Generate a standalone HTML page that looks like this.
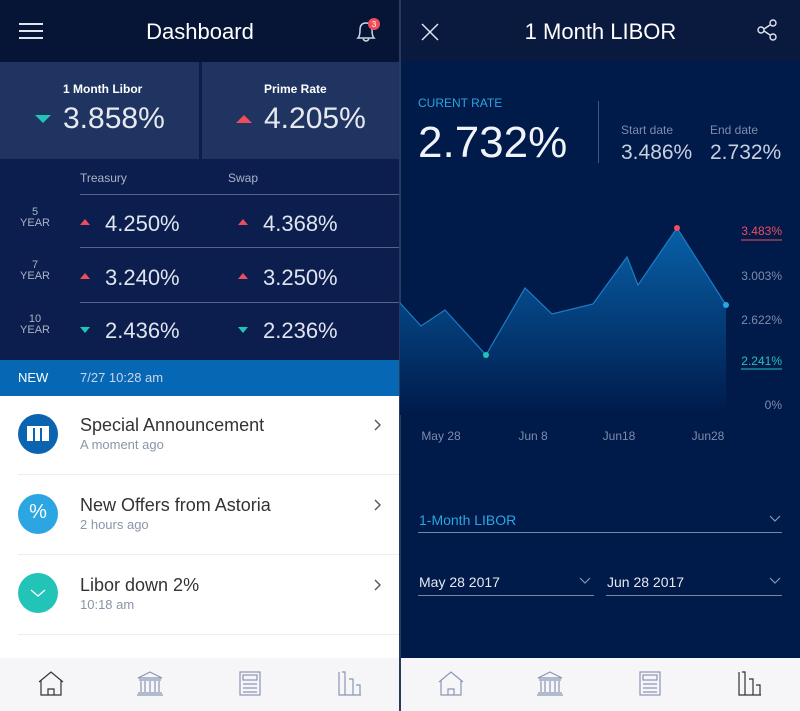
<!DOCTYPE html>
<html><head><meta charset="utf-8"><style>
*{margin:0;padding:0;box-sizing:border-box}
body{width:800px;height:711px;overflow:hidden;background:#07163a;font-family:"Liberation Sans",sans-serif;position:relative}
.a{position:absolute}
.t{color:#fff;white-space:nowrap}
</style></head><body>
<!-- LEFT PANEL -->
<div class="a" style="left:0;top:0;width:400px;height:62px;background:#061536"></div>
<div class="a" style="left:19px;top:23px;width:24px;height:2px;background:#dfe4ee;box-shadow:0 7px 0 #dfe4ee,0 14px 0 #dfe4ee"></div>
<div class="a t" style="left:0;width:400px;text-align:center;top:19px;font-size:22px">Dashboard</div>
<svg class="a" style="left:354px;top:18px" width="28" height="26"><path d="M4 20 Q6 18 6 12 Q6 5 12 5 Q18 5 18 12 Q18 18 20 20 Z M9 21 Q12 25 15 21" fill="none" stroke="#cfd6e4" stroke-width="1.5"/><circle cx="20" cy="6" r="6" fill="#ef4d5b"/><text x="20" y="9" font-size="8" fill="#fff" text-anchor="middle" font-family="Liberation Sans">3</text></svg>
<div class="a" style="left:0;top:62px;width:400px;height:298px;background:#0b1e4e"></div>
<div class="a" style="left:0;top:62px;width:199px;height:97px;background:#1f3461"></div>
<div class="a" style="left:202px;top:62px;width:198px;height:97px;background:#1f3461"></div>
<div class="a t" style="left:63px;top:82px;font-size:12px;font-weight:bold">1 Month Libor</div>
<div class="a" style="left:35px;top:115px;border-left:8px solid transparent;border-right:8px solid transparent;border-top:8px solid #22c4b8"></div>
<div class="a t" style="left:63px;top:102px;font-size:30px;color:#e6e9f0">3.858%</div>
<div class="a t" style="left:264px;top:82px;font-size:12px;font-weight:bold">Prime Rate</div>
<div class="a" style="left:236px;top:115px;border-left:8px solid transparent;border-right:8px solid transparent;border-bottom:8px solid #ef4d5b"></div>
<div class="a t" style="left:264px;top:102px;font-size:30px;color:#e6e9f0">4.205%</div>
<div class="a t" style="left:80px;top:171px;font-size:12px;color:#aab3c6">Treasury</div>
<div class="a t" style="left:228px;top:171px;font-size:12px;color:#aab3c6">Swap</div>
<div class="a" style="left:80px;top:194px;width:320px;height:1px;background:#56668a"></div>
<div class="a" style="left:80px;top:247px;width:320px;height:1px;background:#56668a"></div>
<div class="a" style="left:80px;top:302px;width:320px;height:1px;background:#56668a"></div>
<div class="a t" style="left:17px;top:207px;width:36px;text-align:center;font-size:11px;color:#aab3c6;line-height:11px">5<br>YEAR</div>
<div class="a" style="left:80px;top:219px;border-left:5px solid transparent;border-right:5px solid transparent;border-bottom:6px solid #ef4d5b"></div>
<div class="a t" style="left:105px;top:211px;font-size:22px;color:#dfe4ee">4.250%</div>
<div class="a" style="left:238px;top:219px;border-left:5px solid transparent;border-right:5px solid transparent;border-bottom:6px solid #ef4d5b"></div>
<div class="a t" style="left:263px;top:211px;font-size:22px;color:#dfe4ee">4.368%</div>
<div class="a t" style="left:17px;top:260px;width:36px;text-align:center;font-size:11px;color:#aab3c6;line-height:11px">7<br>YEAR</div>
<div class="a" style="left:80px;top:273px;border-left:5px solid transparent;border-right:5px solid transparent;border-bottom:6px solid #ef4d5b"></div>
<div class="a t" style="left:105px;top:265px;font-size:22px;color:#dfe4ee">3.240%</div>
<div class="a" style="left:238px;top:273px;border-left:5px solid transparent;border-right:5px solid transparent;border-bottom:6px solid #ef4d5b"></div>
<div class="a t" style="left:263px;top:265px;font-size:22px;color:#dfe4ee">3.250%</div>
<div class="a t" style="left:17px;top:314px;width:36px;text-align:center;font-size:11px;color:#aab3c6;line-height:11px">10<br>YEAR</div>
<div class="a" style="left:80px;top:327px;border-left:5px solid transparent;border-right:5px solid transparent;border-top:6px solid #22c4b8"></div>
<div class="a t" style="left:105px;top:318px;font-size:22px;color:#dfe4ee">2.436%</div>
<div class="a" style="left:238px;top:327px;border-left:5px solid transparent;border-right:5px solid transparent;border-top:6px solid #22c4b8"></div>
<div class="a t" style="left:263px;top:318px;font-size:22px;color:#dfe4ee">2.236%</div>
<div class="a" style="left:0;top:360px;width:400px;height:36px;background:#0667b4"></div>
<div class="a t" style="left:18px;top:370px;font-size:13px">NEW</div>
<div class="a t" style="left:80px;top:370px;font-size:13px;color:#c8d6ea">7/27 10:28 am</div>
<div class="a" style="left:0;top:396px;width:400px;height:262px;background:#fff"></div>
<div class="a" style="left:18px;top:414px;width:40px;height:40px;border-radius:50%;background:#0b64b0"></div>
<div class="a" style="left:27px;top:426px;width:22px;height:15px;background:#fff;border-top:2px solid #fff"></div>
<div class="a" style="left:33px;top:428px;width:2px;height:13px;background:#0b64b0;box-shadow:7px 0 0 #0b64b0"></div>
<div class="a t" style="left:80px;top:415px;font-size:18px;color:#333">Special Announcement</div>
<div class="a t" style="left:80px;top:437px;font-size:13px;color:#8a95a8">A moment ago</div>
<div class="a" style="left:18px;top:474px;width:382px;height:1px;background:#eceef2"></div>
<div class="a" style="left:18px;top:494px;width:40px;height:40px;border-radius:50%;background:#2ba6e3"></div>
<div class="a t" style="left:18px;top:501px;width:40px;text-align:center;font-size:20px">%</div>
<div class="a t" style="left:80px;top:495px;font-size:18px;color:#333">New Offers from Astoria</div>
<div class="a t" style="left:80px;top:517px;font-size:13px;color:#8a95a8">2 hours ago</div>
<div class="a" style="left:18px;top:554px;width:382px;height:1px;background:#eceef2"></div>
<div class="a" style="left:18px;top:573px;width:40px;height:40px;border-radius:50%;background:#22c4b8"></div>
<svg class="a" style="left:28px;top:588px" width="20" height="10"><path d="M3 2 L10 8 L17 2" fill="none" stroke="#fff" stroke-width="1.3"/></svg>
<div class="a t" style="left:80px;top:575px;font-size:18px;color:#333">Libor down 2%</div>
<div class="a t" style="left:80px;top:597px;font-size:13px;color:#8a95a8">10:18 am</div>
<div class="a" style="left:18px;top:634px;width:382px;height:1px;background:#eceef2"></div>
<svg class="a" style="left:370px;top:410px" width="20" height="200" fill="none" stroke="#555" stroke-width="1.4"><path d="M5 10 L10 15 L5 20 M5 90 L10 95 L5 100 M5 170 L10 175 L5 180"/></svg>
<!-- tab bars -->
<div class="a" style="left:0;top:658px;width:800px;height:53px;background:#f6f6f8"></div>
<div class="a" style="left:399px;top:0;width:2px;height:711px;background:#2a3a5e"></div>
<svg class="a" style="left:0;top:670px" width="800" height="30" fill="none" stroke-width="1.2">
<g stroke="#333"><path d="M39 12 L51 2 L63 12 M41 10 V25 H61 V10 M48 25 V19 H54 V25"/></g>
<g stroke="#8a96b4"><path d="M138 8 L150 2 L162 8 Z M139 10 H161 M141 11 V22 M145 11 V22 M150 11 V22 M155 11 V22 M159 11 V22 M138 23 H162 M137 25 H163"/>
<rect x="240" y="2" width="20" height="23"/><rect x="243" y="5" width="14" height="5"/><path d="M243 14 H257 M243 18 H257 M243 22 H257"/>
<path d="M339 2 V25 H361 M342 2 H345 V25 M349 9 H353 V25 M356 15 H360 V25"/>
<path d="M439 12 L451 2 L463 12 M441 10 V25 H461 V10 M448 25 V19 H454 V25"/>
<path d="M538 8 L550 2 L562 8 Z M539 10 H561 M541 11 V22 M545 11 V22 M550 11 V22 M555 11 V22 M559 11 V22 M538 23 H562 M537 25 H563"/>
<rect x="640" y="2" width="20" height="23"/><rect x="643" y="5" width="14" height="5"/><path d="M643 14 H657 M643 18 H657 M643 22 H657"/></g>
<g stroke="#333"><path d="M739 2 V25 H761 M742 2 H745 V25 M749 9 H753 V25 M756 15 H760 V25"/></g>
</svg>
<!-- RIGHT PANEL -->
<div class="a" style="left:401px;top:0;width:399px;height:61px;background:#0a1a3e"></div>
<div class="a" style="left:401px;top:61px;width:399px;height:597px;background:#001a4a"></div>
<svg class="a" style="left:420px;top:22px" width="22" height="20"><path d="M2 2 L18 18 M18 2 L2 18" stroke="#dfe4ee" stroke-width="1.5"/></svg>
<div class="a t" style="left:401px;width:399px;text-align:center;top:19px;font-size:22px">1 Month LIBOR</div>
<svg class="a" style="left:756px;top:19px" width="24" height="24" fill="none" stroke="#dfe4ee" stroke-width="1.4"><circle cx="17" cy="4" r="3"/><circle cx="5" cy="11" r="3"/><circle cx="17" cy="18" r="3"/><path d="M8 10 L14 6 M8 12 L14 16"/></svg>
<div class="a t" style="left:418px;top:96px;font-size:12px;color:#2aa6e0">CURENT RATE</div>
<div class="a t" style="left:418px;top:118px;font-size:44px;font-weight:300;color:#f0f3f8">2.732%</div>
<div class="a" style="left:598px;top:101px;width:1px;height:62px;background:#43557d"></div>
<div class="a t" style="left:621px;top:123px;font-size:12px;color:#7f8cab">Start date</div>
<div class="a t" style="left:710px;top:123px;font-size:12px;color:#7f8cab">End date</div>
<div class="a t" style="left:621px;top:141px;font-size:21px;color:#c8d0e0">3.486%</div>
<div class="a t" style="left:710px;top:141px;font-size:21px;color:#c8d0e0">2.732%</div>
<svg class="a" style="left:400px;top:190px" width="400" height="260">
<defs><linearGradient id="g" x1="0" y1="0" x2="0" y2="1"><stop offset="0" stop-color="#0860a8"/><stop offset="1" stop-color="#001a4a"/></linearGradient></defs>
<path d="M0 113 L21 136 L45 120 L86 165 L125 98 L152 124 L193 114 L227 67 L238 95 L277 38 L326 115 L326 225 L0 225 Z" fill="url(#g)"/>
<path d="M0 113 L21 136 L45 120 L86 165 L125 98 L152 124 L193 114 L227 67 L238 95 L277 38 L326 115" fill="none" stroke="#1d7dc4" stroke-width="1.2"/>
<circle cx="86" cy="165" r="3" fill="#22c4b8"/><circle cx="277" cy="38" r="3" fill="#ef4d5b"/><circle cx="326" cy="115" r="3" fill="#2aa6e0"/>
<g font-family="Liberation Sans" font-size="12" text-anchor="end">
<text x="382" y="45" fill="#ef4d5b">3.483%</text><line x1="341" y1="50" x2="382" y2="50" stroke="#ef4d5b"/>
<text x="382" y="90" fill="#7f8cab">3.003%</text>
<text x="382" y="134" fill="#7f8cab">2.622%</text>
<text x="382" y="175" fill="#22c4b8">2.241%</text><line x1="341" y1="179" x2="382" y2="179" stroke="#22c4b8"/>
<text x="382" y="219" fill="#7f8cab">0%</text></g>
<g font-family="Liberation Sans" font-size="12" fill="#7f8cab" text-anchor="middle">
<text x="41" y="250">May 28</text><text x="133" y="250">Jun 8</text><text x="219" y="250">Jun18</text><text x="308" y="250">Jun28</text></g>
</svg>
<div class="a t" style="left:419px;top:512px;font-size:14px;color:#2aa6e0">1-Month LIBOR</div>
<div class="a" style="left:418px;top:532px;width:364px;height:1px;background:#7a86a4"></div>
<div class="a t" style="left:419px;top:574px;font-size:14px;color:#e6e9f0">May 28 2017</div>
<div class="a" style="left:418px;top:595px;width:176px;height:1px;background:#7a86a4"></div>
<div class="a t" style="left:607px;top:574px;font-size:14px;color:#e6e9f0">Jun 28 2017</div>
<div class="a" style="left:606px;top:595px;width:176px;height:1px;background:#7a86a4"></div>
<svg class="a" style="left:0;top:0" width="800" height="600" fill="none" stroke="#8a96b4" stroke-width="1.2"><path d="M770 516 L775 521 L780 516 M580 578 L585 583 L590 578 M770 578 L775 583 L780 578"/></svg>
</body></html>
